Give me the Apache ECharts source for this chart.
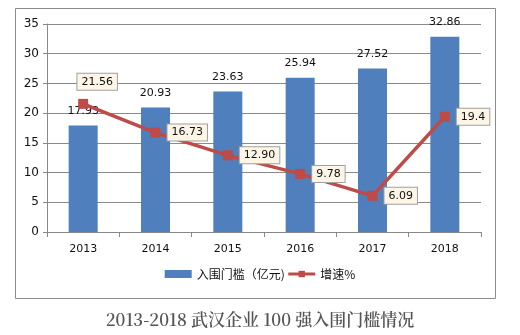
<!DOCTYPE html>
<html>
<head>
<meta charset="utf-8">
<script src="https://cdn.jsdelivr.net/npm/echarts@6/dist/echarts.min.js"></script>
<style>
html,body{margin:0;padding:0;background:#fff;}
#chart{width:520px;height:335px;}
</style>
</head>
<body>
<div id="chart"></div>
<script>
// Years on the category axis
var years = ['2013', '2014', '2015', '2016', '2017', '2018'];
// Entry threshold (100 million yuan)
var threshold = [17.93, 20.93, 23.63, 25.94, 27.52, 32.86];
// Growth rate (%)
var growth = [21.56, 16.73, 12.90, 9.78, 6.09, 19.4];
var growthText = ['21.56', '16.73', '12.90', '9.78', '6.09', '19.4'];

var chart = echarts.init(document.getElementById('chart'));
var numFont = '"DejaVu Sans","Noto Sans CJK SC",sans-serif';
var cjkFont = '"Noto Sans CJK SC","DejaVu Sans",sans-serif';

var growthData = growth.map(function (v, i) {
  var d = { value: v };
  if (i === 0) {
    d.label = { position: 'top', offset: [14, -2] };
  }
  return d;
});

chart.setOption({
  animation: false,
  backgroundColor: '#fff',
  textStyle: { fontFamily: numFont },
  grid: { left: 47, right: 39, top: 24, bottom: 103 },
  graphic: [
    {
      type: 'rect',
      shape: { x: 15.5, y: 8.5, width: 480, height: 290 },
      style: { fill: 'none', stroke: '#8c8c8c', lineWidth: 1 },
      z: 0
    },
    {
      type: 'text',
      left: 'center',
      top: 311,
      style: {
        text: '2013-2018 武汉企业 100 强入围门槛情况',
        fill: '#555',
        font: '600 17px "Noto Serif CJK SC","Noto Sans CJK SC",serif'
      }
    }
  ],
  legend: {
    bottom: 50,
    left: 'center',
    itemGap: 2,
    itemWidth: 27,
    itemHeight: 8,
    textStyle: { fontSize: 12, color: '#111', fontFamily: cjkFont },
    data: [
      { name: '入围门槛（亿元)', icon: 'rect' },
      { name: '增速%', lineStyle: { width: 3 } }
    ]
  },
  xAxis: {
    type: 'category',
    data: years,
    axisLine: { lineStyle: { color: '#888' } },
    axisTick: { show: true, alignWithLabel: false, length: 5, lineStyle: { color: '#888' } },
    axisLabel: { color: '#111', fontSize: 11, margin: 12, fontFamily: numFont }
  },
  yAxis: {
    type: 'value',
    min: 0,
    max: 35,
    interval: 5,
    axisLine: { show: true, lineStyle: { color: '#888' } },
    axisTick: { show: true, length: 4, lineStyle: { color: '#888' } },
    axisLabel: { color: '#111', fontSize: 12, margin: 8, fontFamily: numFont },
    splitLine: { lineStyle: { color: '#8a8a8a' } }
  },
  series: [
    {
      name: '入围门槛（亿元)',
      type: 'bar',
      data: threshold,
      barWidth: 29,
      itemStyle: { color: '#4f7fbc' },
      label: {
        show: true,
        position: 'top',
        distance: 9,
        color: '#111',
        fontSize: 11,
        fontFamily: numFont
      },
      z: 2
    },
    {
      name: '增速%',
      type: 'line',
      data: growthData,
      symbol: 'rect',
      symbolSize: 10,
      lineStyle: { color: '#be4b48', width: 3.5 },
      itemStyle: { color: '#be4b48' },
      label: {
        show: true,
        position: 'right',
        distance: 7,
        formatter: function (p) { return growthText[p.dataIndex]; },
        color: '#111',
        fontSize: 11,
        fontFamily: numFont,
        backgroundColor: '#fdf6e6',
        borderColor: '#a0a0a0',
        borderWidth: 1,
        padding: [3, 4, 2, 4]
      },
      z: 3
    }
  ]
});
</script>
</body>
</html>
